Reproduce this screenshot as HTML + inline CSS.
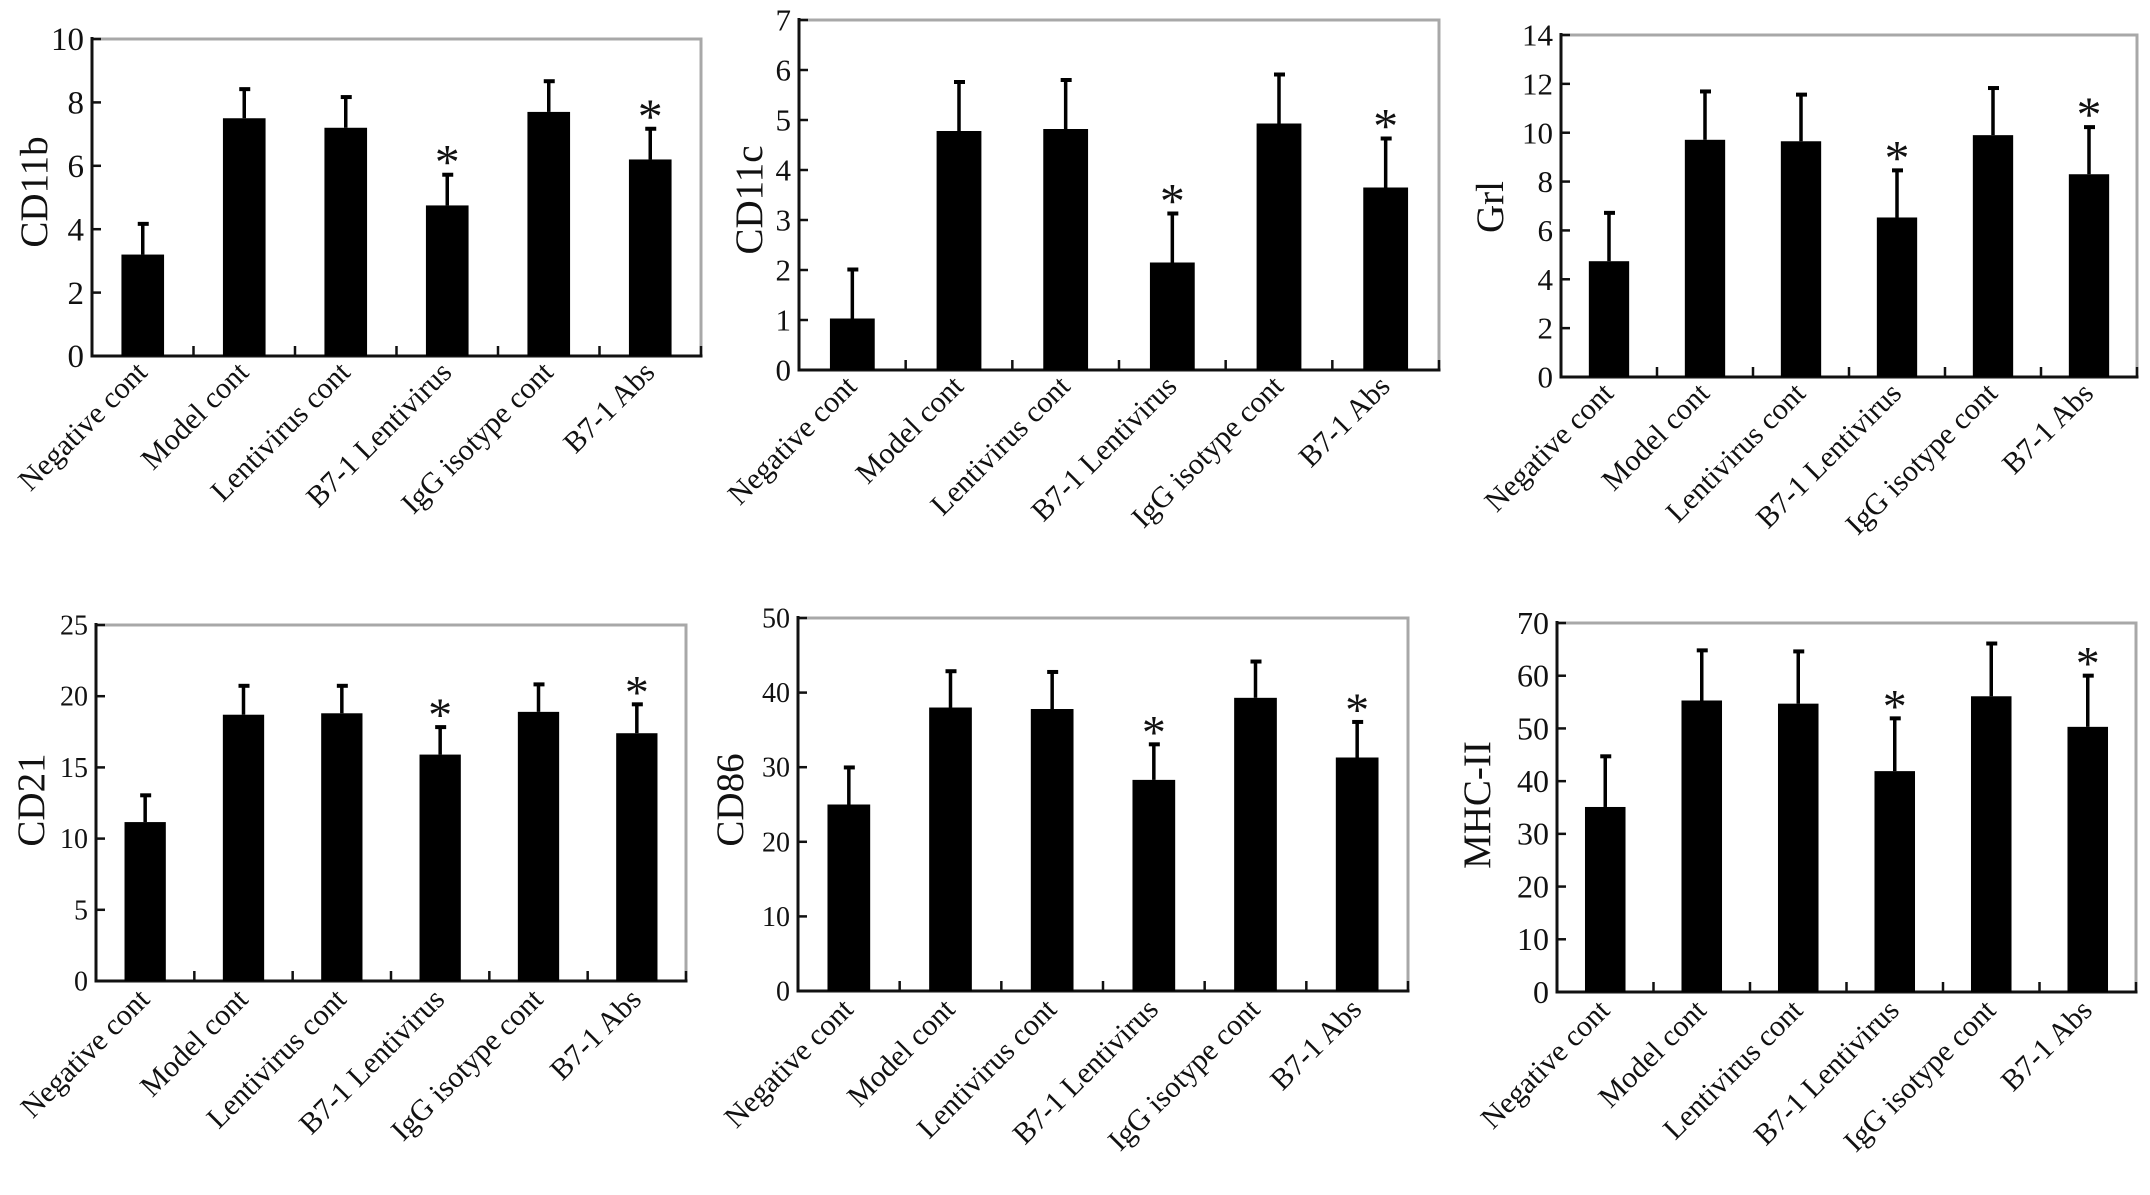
<!DOCTYPE html>
<html><head><meta charset="utf-8">
<style>
html,body{margin:0;padding:0;background:#fff;}
svg{display:block;}
text{font-family:"Liberation Serif",serif;fill:#111;}
</style></head>
<body>
<svg id="fig" width="2150" height="1195" viewBox="0 0 2150 1195" xmlns="http://www.w3.org/2000/svg"></svg>
<script>
const categories = ["Negative cont","Model cont","Lentivirus cont","B7-1 Lentivirus","IgG isotype cont","B7-1 Abs"];
const significant = [false,false,false,true,false,true];

const cd11bValues = [3.2,7.5,7.2,4.75,7.7,6.2];
const cd11bErrors = [1.0,0.95,1.0,1.0,1.0,1.0];
const cd11bTicks = [0,2,4,6,8,10];

const cd11cValues = [1.03,4.78,4.82,2.15,4.93,3.65];
const cd11cErrors = [1.0,1.0,1.0,1.0,1.0,1.0];
const cd11cTicks = [0,1,2,3,4,5,6,7];

const grlValues = [4.74,9.71,9.65,6.53,9.9,8.3];
const grlErrors = [2.02,2.02,1.95,1.97,1.97,1.97];
const grlTicks = [0,2,4,6,8,10,12,14];

const cd21Values = [11.16,18.7,18.8,15.9,18.9,17.4];
const cd21Errors = [1.95,2.1,2.0,2.0,2.0,2.1];
const cd21Ticks = [0,5,10,15,20,25];

const cd86Values = [25.0,38.0,37.8,28.3,39.3,31.3];
const cd86Errors = [5.1,5.0,5.1,4.9,5.0,4.9];
const cd86Ticks = [0,10,20,30,40,50];

const mhcValues = [35.1,55.3,54.7,41.9,56.1,50.3];
const mhcErrors = [9.8,9.7,10.1,10.2,10.2,9.9];
const mhcTicks = [0,10,20,30,40,50,60,70];

const NS="http://www.w3.org/2000/svg";
const svg=document.getElementById('fig');
function mk(tag,attrs,parent){const e=document.createElementNS(NS,tag);for(const k in attrs)e.setAttribute(k,attrs[k]);(parent||svg).appendChild(e);return e;}

function drawChart(id,title,values,errors,ticks,box,style){
  const g=mk('g',{});
  
  
  const {l,r,t,b}=box;
  const yMax=ticks[ticks.length-1];
  const y=v=>b-(v/yMax)*(b-t);
  const cw=(r-l)/categories.length;
  const x=i=>l+cw*(i+0.5);
  const fr=mk('path',{d:`M${l},${t} L${r},${t} L${r},${b}`,stroke:'#a8a8a8','stroke-width':3,fill:'none'},g);
  
  
  const ya=mk('line',{x1:l,y1:t-2,x2:l,y2:b+1.5,stroke:'#111','stroke-width':3},g);
  
  
  const xa=mk('line',{x1:l-1.5,y1:b,x2:r+1.5,y2:b,stroke:'#111','stroke-width':3},g);
  
  
  ticks.forEach(tv=>{
    const yy=y(tv);
    mk('line',{x1:l,y1:yy,x2:l+9,y2:yy,stroke:'#111','stroke-width':2.5},g);
    const tx=mk('text',{x:l-8,y:yy+style.tfs*0.34,'text-anchor':'end','font-size':style.tfs},g);
    tx.textContent=tv;
    
    
  });
  for(let i=1;i<=categories.length;i++){
    mk('line',{x1:l+cw*i,y1:b,x2:l+cw*i,y2:b-10,stroke:'#111','stroke-width':2.5},g);
  }
  const bw=cw*0.42;
  values.forEach((v,i)=>{
    const cx=x(i);
    const top=y(v+errors[i]);
    const el=mk('line',{x1:cx,y1:y(v),x2:cx,y2:top,stroke:'#000','stroke-width':3.5},g);
    
    
    mk('line',{x1:cx-5,y1:top+1,x2:cx+6,y2:top+1,stroke:'#000','stroke-width':4},g);
    const bar=mk('rect',{x:cx-bw/2,y:y(v),width:bw,height:b-y(v),fill:'#000'},g);
    
    
    if(significant[i]){
      const s=mk('text',{x:cx,y:top+5,'text-anchor':'middle','font-size':style.afs},g);
      s.textContent='*';
      
      
    }
    const lx=cx+6, ly=b+style.ldy;
    const lab=mk('text',{x:lx,y:ly,'text-anchor':'end','font-size':style.xfs,transform:`rotate(-45 ${lx} ${ly})`},g);
    lab.textContent=categories[i];
    
    
  });
  const tt=mk('text',{x:style.tx,y:style.ty,'text-anchor':'middle','font-size':style.ttfs,transform:`rotate(-90 ${style.tx} ${style.ty})`},g);
  tt.textContent=title;
  
  
}

drawChart('cd11b','CD11b',cd11bValues,cd11bErrors,cd11bTicks,{l:92,r:701,t:39,b:356},{tfs:33,xfs:30,ldy:18,afs:50,tx:47,ty:192,ttfs:39});
drawChart('cd11c','CD11c',cd11cValues,cd11cErrors,cd11cTicks,{l:799,r:1439,t:20,b:370},{tfs:31,xfs:30,ldy:18,afs:50,tx:762,ty:200,ttfs:39});
drawChart('grl','Grl',grlValues,grlErrors,grlTicks,{l:1561,r:2137,t:35,b:377},{tfs:31,xfs:30,ldy:18,afs:50,tx:1503,ty:207,ttfs:39});
drawChart('cd21','CD21',cd21Values,cd21Errors,cd21Ticks,{l:96,r:686,t:625,b:981},{tfs:28,xfs:30,ldy:20,afs:48,tx:44,ty:800,ttfs:39});
drawChart('cd86','CD86',cd86Values,cd86Errors,cd86Ticks,{l:798,r:1408,t:618,b:991},{tfs:28,xfs:30,ldy:20,afs:48,tx:743,ty:800,ttfs:39});
drawChart('mhc','MHC-II',mhcValues,mhcErrors,mhcTicks,{l:1557,r:2136,t:623,b:992},{tfs:32,xfs:30,ldy:20,afs:48,tx:1490,ty:805,ttfs:39});
</script>
</body></html>
